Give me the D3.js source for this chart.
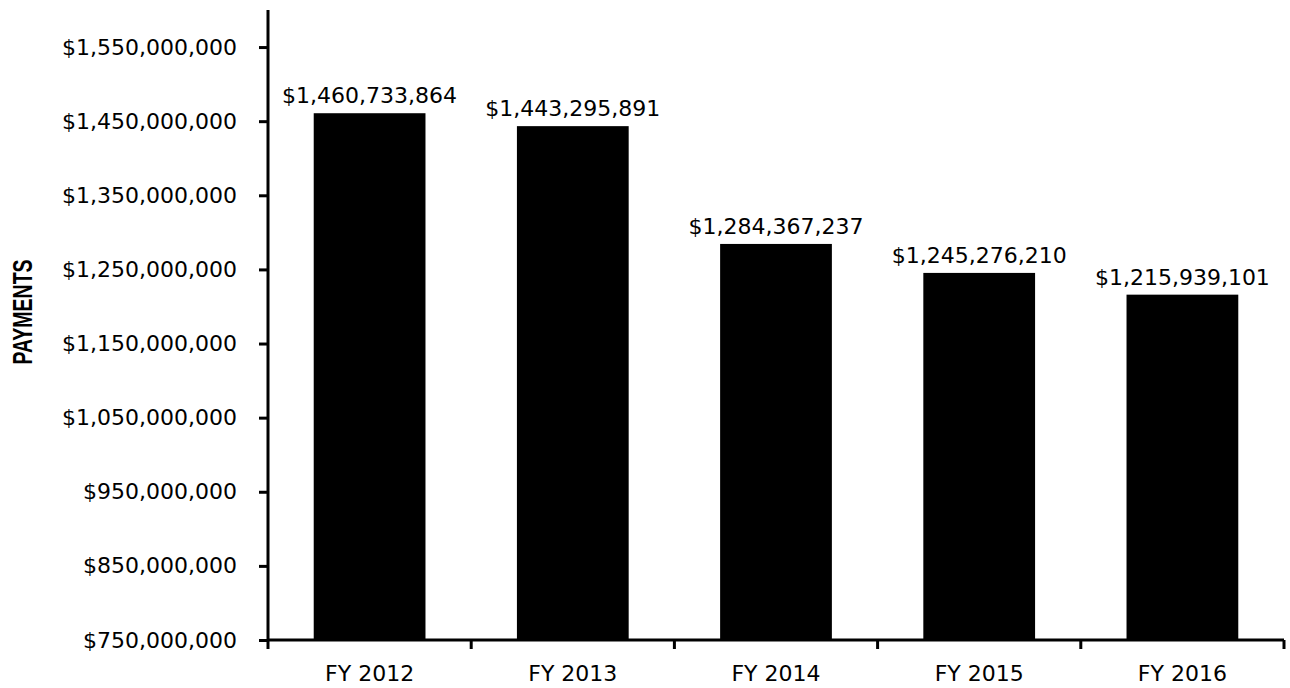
<!DOCTYPE html>
<html><head><meta charset="utf-8">
<script src="https://cdn.jsdelivr.net/npm/d3@7"></script>
<style>body{margin:0;background:#fff}svg{display:block}</style>
</head><body>
<svg id="c" width="1290" height="688"></svg>
<script>
const categories = ["FY 2012","FY 2013","FY 2014","FY 2015","FY 2016"];
const payments = [1460733864,1443295891,1284367237,1245276210,1215939101];
const yTicks = [750000000,850000000,950000000,1050000000,1150000000,1250000000,1350000000,1450000000,1550000000];
const yTitle = "PAYMENTS";

(function(){
const svg = d3.select("#c");
const font = "'DejaVu Sans',Verdana,sans-serif";
const fs = 22;
const L = 268, R = 1284, T = 10, B = 640;
const x = d3.scaleBand().domain(categories).range([L,R]).paddingInner(0.45).paddingOuter(0.225);
const y = d3.scaleLinear().domain([750000000,1600000000]).range([B,T]);
const fmt = v => "$" + d3.format(",")(v);

svg.selectAll("rect.bar").data(payments).join("rect")
  .attr("x",(d,i)=>x(categories[i])).attr("width",x.bandwidth())
  .attr("y",d=>y(d)).attr("height",d=>B-y(d)).attr("fill","#000");

svg.selectAll("text.lbl").data(payments).join("text")
  .attr("x",(d,i)=>x(categories[i])+x.bandwidth()/2).attr("y",d=>y(d)-10)
  .attr("text-anchor","middle").attr("font-family",font).attr("font-size",fs)
  .text(d=>fmt(d));

const ya = svg.append("g").attr("transform",`translate(${L},0)`)
  .call(d3.axisLeft(y).tickValues(yTicks).tickFormat(fmt).tickSize(9).tickPadding(22));
ya.select(".domain").attr("d",`M0,${T}V${B}`).attr("stroke","#000").attr("stroke-width",3);
ya.selectAll(".tick line").attr("stroke","#000").attr("stroke-width",3);
ya.selectAll(".tick text").attr("font-family",font).attr("font-size",fs).attr("fill","#000");

const xa = svg.append("g").attr("transform",`translate(0,${B})`)
  .call(d3.axisBottom(x).tickSize(0).tickPadding(0));
xa.select(".domain").attr("d",`M${L},0H${R}`).attr("stroke","#000").attr("stroke-width",3);
xa.selectAll(".tick text").attr("font-family",font).attr("font-size",fs).attr("fill","#000")
  .attr("y",41).attr("dy",0);
const edges = d3.range(categories.length+1).map(i=>L+i*x.step());
svg.append("g").selectAll("line").data(edges).join("line")
  .attr("x1",d=>d).attr("x2",d=>d).attr("y1",B).attr("y2",B+9)
  .attr("stroke","#000").attr("stroke-width",3);

svg.append("text").attr("transform",`translate(32,312) rotate(-90) scale(1,1.4)`)
  .attr("text-anchor","middle").attr("font-family","'Liberation Sans',Arial,sans-serif")
  .attr("font-weight","bold").attr("font-size",19.5).text(yTitle);
})();
</script>
</body></html>
